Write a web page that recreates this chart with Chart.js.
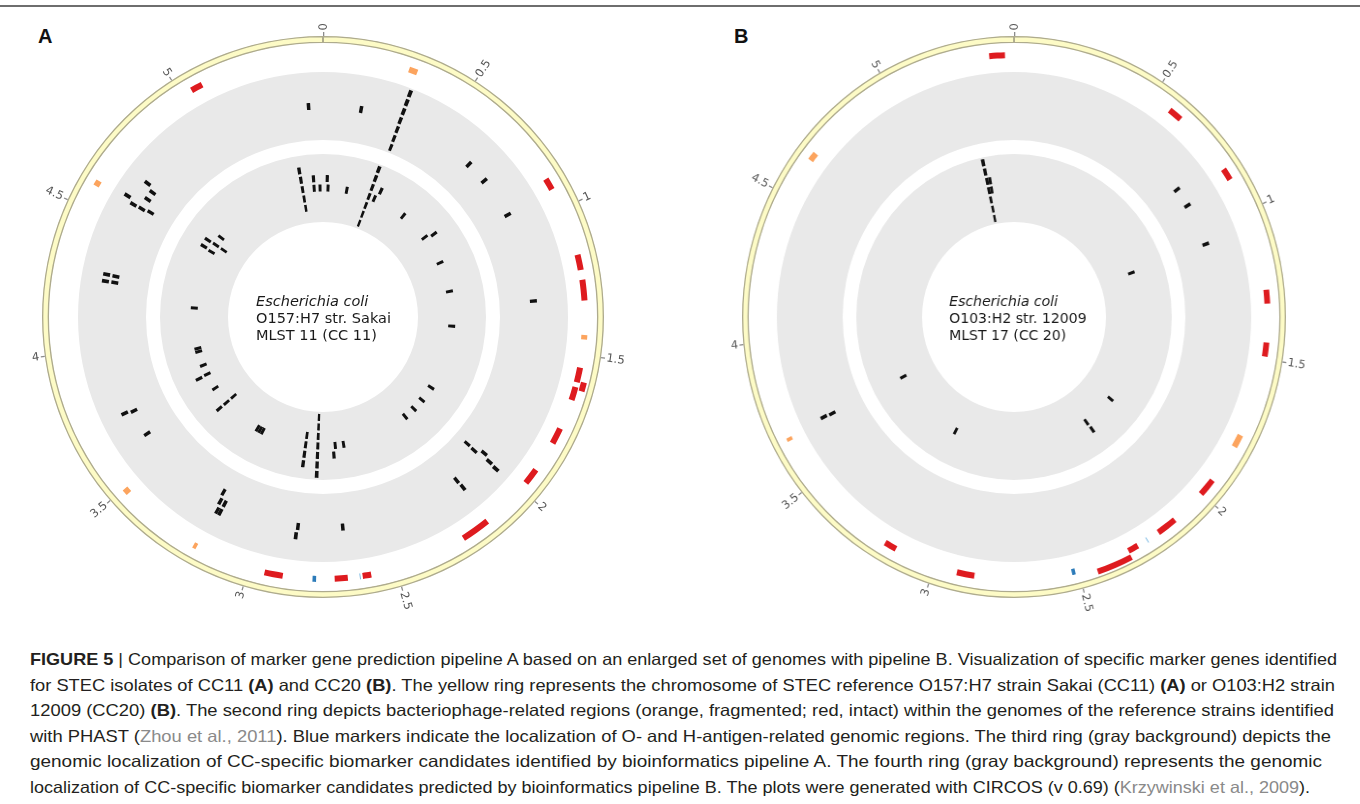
<!DOCTYPE html>
<html>
<head>
<meta charset="utf-8">
<script src="https://cdn.jsdelivr.net/npm/chart.js@4.4.1/dist/chart.umd.min.js"></script>
<style>
  html, body { margin: 0; padding: 0; background: #fff; }
  body { width: 1360px; height: 804px; overflow: hidden; position: relative; font-family: "Liberation Sans", Arial, sans-serif; }
  .topline { position: absolute; left: 0; top: 5px; width: 1360px; height: 2px; background: #6e6e6e; }
  .letter { position: absolute; top: 26px; font: bold 20px "Liberation Sans", Arial, sans-serif; color: #111; line-height: 20px; }
  .wrap { position: absolute; top: -3px; width: 640px; height: 640px; }
  .wrap canvas { display: block; }
  #caption { position: absolute; left: 30px; top: 647px; color: #231f20; font-size: 16.5px; line-height: 25.6px; white-space: nowrap; }
  #caption div { transform-origin: 0 0; width: max-content; }
  #caption .ref { color: #8a8a8a; }
</style>
</head>
<body>
<div class="topline"></div>
<div class="letter" style="left:38px">A</div>
<div class="letter" style="left:734px">B</div>
<div class="wrap" style="left:3px"><canvas id="circA" width="640" height="640"></canvas></div>
<div class="wrap" style="left:694px; transform: scaleX(0.968); transform-origin: 320px 320px;"><canvas id="circB" width="640" height="640"></canvas></div>
<div id="caption">
  <div data-right="1337"><b>FIGURE 5</b> | Comparison of marker gene prediction pipeline A based on an enlarged set of genomes with pipeline B. Visualization of specific marker genes identified</div>
  <div data-right="1335">for STEC isolates of CC11 <b>(A)</b> and CC20 <b>(B)</b>. The yellow ring represents the chromosome of STEC reference O157:H7 strain Sakai (CC11) <b>(A)</b> or O103:H2 strain</div>
  <div data-right="1334">12009 (CC20) <b>(B)</b>. The second ring depicts bacteriophage-related regions (orange, fragmented; red, intact) within the genomes of the reference strains identified</div>
  <div data-right="1331">with PHAST (<span class="ref">Zhou et al., 2011</span>). Blue markers indicate the localization of O- and H-antigen-related genomic regions. The third ring (gray background) depicts the</div>
  <div data-right="1322">genomic localization of CC-specific biomarker candidates identified by bioinformatics pipeline A. The fourth ring (gray background) represents the genomic</div>
  <div data-right="1310">localization of CC-specific biomarker candidates predicted by bioinformatics pipeline B. The plots were generated with CIRCOS (v 0.69) (<span class="ref">Krzywinski et al., 2009</span>).</div>
</div>
<script>
// ---- Genome coordinates are in Mb ----
const genomeLengthA = 5.5;    // O157:H7 str. Sakai
const genomeLengthB = 5.45;   // O103:H2 str. 12009
const tickValues = [0, 0.5, 1, 1.5, 2, 2.5, 3, 3.5, 4, 4.5, 5];
const tickLabels = ['0', '0.5', '1', '1.5', '2', '2.5', '3', '3.5', '4', '4.5', '5'];

// PHAST prophage regions: [start, end, stacking layer]
const intactPhageA = [
  [0.89, 0.93, 0], [1.165, 1.217, 0], [1.25, 1.32, 0], [1.545, 1.595, 0], [1.59, 1.62, 1],
  [1.612, 1.657, 0], [1.76, 1.815, 0], [1.92, 1.975, 0], [2.157, 2.255, 0], [2.588, 2.617, 0],
  [2.667, 2.711, 0], [2.885, 2.947, 0], [5.04, 5.08, 0]
];
const fragmentedPhageA = [
  [0.293, 0.322, 0], [1.435, 1.45, 0], [3.19, 3.202, 0], [3.48, 3.50, 0], [4.583, 4.603, 0]
];
// Antigen-related regions: [start, end]
const oAntigenA = [[2.773, 2.785]];
const hAntigenA = [[2.624, 2.627]];

// Biomarker candidates: [position, tile layer]  (layer 0 = track centre)
const pipelineAMarkersA = [
  [0.159, 0],
  [0.325, 3], [0.326, 2], [0.327, 1], [0.328, 0], [0.330, -1], [0.331, -2], [0.333, -3],
  [0.668, 0], [0.761, 0], [0.933, 0], [1.309, 0],
  [2.006, -2], [2.008, -1], [1.989, 0], [2.002, 1], [2.006, 2],
  [2.150, 0], [2.148, 1], [2.668, 0], [2.854, 0], [2.858, 1],
  [3.202, -1], [3.195, 0], [3.187, 1], [3.174, 0], [3.174, 1],
  [3.612, 0], [3.722, 0], [3.729, 1],
  [4.268, 0], [4.268, 1], [4.294, 0], [4.295, 1],
  [4.594, 1], [4.596, 0], [4.602, -1], [4.611, 2], [4.642, 0], [4.677, 0], [4.695, 1],
  [5.44, 0]
];
const pipelineBMarkersA = [
  [5.359, 2], [5.360, 1], [5.361, 0], [5.362, -1], [5.363, -2],
  [5.44, 1], [5.44, 0], [5.48, 0], [0.027, 1], [0.034, 0], [0.162, 0],
  [0.316, 3], [0.317, 2], [0.318, 1], [0.319, 0], [0.320, -1], [0.321, -2], [0.322, -3],
  [0.377, 1], [0.358, 0], [0.587, 0], [0.794, 0], [0.813, 1], [0.995, 0], [1.201, 0], [1.437, 0],
  [1.881, 0], [1.986, 0], [2.067, 0], [2.146, 0],
  [2.610, 0], [2.667, 0], [2.681, 1],
  [2.785, 3], [2.785, 2], [2.785, 1], [2.785, 0], [2.785, -1], [2.785, -2], [2.785, -3],
  [2.868, 2], [2.868, 1], [2.868, 0], [2.868, -1],
  [3.175, 0], [3.195, 0], [3.215, 0],
  [3.490, -1], [3.490, 0], [3.491, 1], [3.614, 0], [3.723, 0], [3.720, 1], [3.790, 0],
  [3.888, 0], [3.910, 0], [4.186, 0],
  [4.587, 0], [4.594, 1], [4.641, 1], [4.643, 0], [4.643, -1], [4.704, 0]
];

const intactPhageB = [
  [5.365, 5.419, 0], [0.573, 0.621, 0], [0.843, 0.884, 0], [1.272, 1.318, 0], [1.447, 1.494, 0],
  [1.946, 2.006, 0], [2.13, 2.20, 0], [2.283, 2.319, 0], [2.319, 2.441, 1], [2.861, 2.922, 0],
  [3.145, 3.187, 0]
];
const fragmentedPhageB = [[4.643, 4.672, 0], [1.768, 1.812, 0], [3.661, 3.673, 0]];
const oAntigenB = [[2.514, 2.526]];
const hAntigenB = [[2.244, 2.247]];
const pipelineAMarkersB = [[0.801, 0], [0.880, 0], [1.057, 0], [3.679, 1], [3.676, 0]];
const pipelineBMarkersB = [
  [3.670, 0], [3.147, 0], [1.959, 0], [2.189, 0], [2.185, 1], [1.060, 0],
  [5.273, 3], [5.274, 2], [5.275, 1], [5.275, 0], [5.276, -1], [5.277, -2], [5.277, -3],
  [5.294, 1], [5.294, 0]
];

const strainA = ['Escherichia coli', 'O157:H7 str. Sakai', 'MLST 11 (CC 11)'];
const strainB = ['Escherichia coli', 'O103:H2 str. 12009', 'MLST 17 (CC 20)'];

// ---- drawing constants ----
const COLORS = {
  chromosome: '#fdfbc6', chromosomeEdge: '#aeab8e', tick: '#8c8c8c', tickText: '#555555',
  intact: '#de1b1f', fragmented: '#fca45e', oAntigen: '#2c7bb9', hAntigen: '#79b8e3',
  track: '#e9e9e9', tile: '#111111', none: 'rgba(0,0,0,0)'
};
const OUTER_RADIUS = 285, INNER_RADIUS = 95;
const TICK_W = 0.004;                       // Mb
const TILE_W = { inner3: 0.0145, inner4: 0.02 };
const LAYERS = [3, 2, 1, 0, -1, -2, -3];    // outer -> inner

// Turn a list of intervals into one doughnut ring (gaps are transparent).
function ringData(intervals, L) {
  const pieces = [];
  intervals.forEach((iv, idx) => {
    let s = iv.s, e = iv.e;
    if (s < 0) { pieces.push({ s: s + L, e: L, color: iv.color, idx: -1 }); s = 0; }
    if (e > L) { pieces.push({ s: 0, e: e - L, color: iv.color, idx: -1 }); e = L; }
    pieces.push({ s, e, color: iv.color, idx });
  });
  pieces.sort((a, b) => a.s - b.s);
  const data = [], colors = [], owner = [];
  let cur = 0;
  pieces.forEach(p => {
    const s = Math.max(p.s, cur);
    if (p.e <= s) return;
    if (s > cur) { data.push(s - cur); colors.push(COLORS.none); owner.push(-1); }
    data.push(p.e - s); colors.push(p.color); owner.push(p.idx);
    cur = p.e;
  });
  if (cur < L) { data.push(L - cur); colors.push(COLORS.none); owner.push(-1); }
  return { data, colors, owner };
}

function ds(ring, weight, extra) {
  return Object.assign({ data: ring.data, backgroundColor: ring.colors, weight,
    borderWidth: 0, hoverBorderWidth: 0, hoverBackgroundColor: ring.colors }, extra || {});
}
function blank(L, weight) { return ds({ data: [L], colors: [COLORS.none] }, weight); }

function buildPanel(canvasId, L, intact, fragmented, oAnt, hAnt, markers3, markers4, strain) {
  const datasets = [];
  // tick ring
  const tickRing = ringData(tickValues.map(v => ({ s: v, e: v + TICK_W, color: COLORS.tick })), L);
  datasets.push(ds(tickRing, 4));
  // chromosome ideogram
  datasets.push(ds({ data: [L], colors: [COLORS.chromosome] }, 7,
    { borderWidth: 1, borderColor: COLORS.chromosomeEdge, borderAlign: 'inner', hoverBorderWidth: 1 }));
  datasets.push(blank(L, 2));
  // prophage track, two stacking layers
  const phageLayer = layer => ringData([
    ...intact.filter(r => r[2] === layer).map(r => ({ s: r[0], e: r[1], color: COLORS.intact })),
    ...fragmented.filter(r => r[2] === layer).map(r => ({ s: r[0], e: r[1], color: COLORS.fragmented })),
    ...(layer === 0 ? oAnt.map(r => ({ s: r[0], e: r[1], color: COLORS.oAntigen })) : []),
    ...(layer === 0 ? hAnt.map(r => ({ s: r[0], e: r[1], color: COLORS.hAntigen })) : [])
  ], L);
  datasets.push(ds(phageLayer(1), 6));
  datasets.push(blank(L, 1));
  datasets.push(ds(phageLayer(0), 6));
  datasets.push(blank(L, 14));
  // tile tracks
  const tracks = [];
  const tileTrack = (markers, w) => {
    const first = datasets.length;
    datasets.push(blank(L, 2));
    LAYERS.forEach((k, i) => {
      const ring = ringData(markers.filter(m => m[1] === k)
        .map(m => ({ s: m[0] - w / 2, e: m[0] + w / 2, color: COLORS.tile })), L);
      datasets.push(ds(ring, 7));
      if (i < LAYERS.length - 1) datasets.push(blank(L, 2.5));
    });
    datasets.push(blank(L, 2));
    tracks.push([first, datasets.length - 1]);
  };
  tileTrack(markers3, TILE_W.inner3);
  datasets.push(blank(L, 14));
  tileTrack(markers4, TILE_W.inner4);

  const trackBackground = {
    id: 'trackBackground',
    beforeDatasetsDraw(chart) {
      const ctx = chart.ctx;
      ctx.save();
      ctx.fillStyle = COLORS.track;
      tracks.forEach(([a, b]) => {
        const outer = chart.getDatasetMeta(a).data[0];
        const inner = chart.getDatasetMeta(b).data[0];
        ctx.beginPath();
        ctx.arc(outer.x, outer.y, outer.outerRadius, 0, Math.PI * 2);
        ctx.arc(outer.x, outer.y, inner.innerRadius, 0, Math.PI * 2, true);
        ctx.fill();
      });
      ctx.restore();
    }
  };

  const tickText = {
    id: 'tickText',
    afterDatasetsDraw(chart) {
      const meta = chart.getDatasetMeta(0);
      const ctx = chart.ctx;
      ctx.save();
      ctx.fillStyle = COLORS.tickText;
      ctx.font = '11.5px "DejaVu Sans", Verdana, sans-serif';
      ctx.textBaseline = 'middle';
      tickRing.owner.forEach((idx, i) => {
        if (idx < 0) return;
        const el = meta.data[i];
        const a = (el.startAngle + el.endAngle) / 2;
        const r = el.outerRadius + 1.5;
        ctx.save();
        ctx.translate(el.x, el.y);
        if (Math.cos(a) > -1e-6) {
          ctx.rotate(a); ctx.textAlign = 'left';
          ctx.fillText(tickLabels[idx], r, 0);
        } else {
          ctx.rotate(a + Math.PI); ctx.textAlign = 'right';
          ctx.fillText(tickLabels[idx], -r, 0);
        }
        ctx.restore();
      });
      ctx.restore();
    }
  };

  const centreText = {
    id: 'centreText',
    afterDraw(chart) {
      const el = chart.getDatasetMeta(0).data[0];
      const ctx = chart.ctx;
      ctx.save();
      ctx.fillStyle = '#1a1a1a';
      ctx.textAlign = 'left';
      ctx.textBaseline = 'middle';
      strain.forEach((t, i) => {
        ctx.font = (i === 0 ? 'italic ' : '') + '14.5px "DejaVu Sans", Verdana, sans-serif';
        ctx.fillText(t, el.x - 67, el.y - 15 + i * 17);
      });
      ctx.restore();
    }
  };

  return new Chart(document.getElementById(canvasId), {
    type: 'doughnut',
    data: { labels: [], datasets },
    options: {
      responsive: false,
      animation: false,
      events: [],
      radius: OUTER_RADIUS,
      cutout: (INNER_RADIUS / OUTER_RADIUS * 100) + '%',
      rotation: 0,
      circumference: 360,
      layout: { padding: 0 },
      elements: { arc: { borderWidth: 0, hoverBorderWidth: 0, offset: 0, hoverOffset: 0, spacing: 0 } },
      plugins: { legend: { display: false }, tooltip: { enabled: false } }
    },
    plugins: [trackBackground, tickText, centreText]
  });
}

buildPanel('circA', genomeLengthA, intactPhageA, fragmentedPhageA, oAntigenA, hAntigenA,
  pipelineAMarkersA, pipelineBMarkersA, strainA);
buildPanel('circB', genomeLengthB, intactPhageB, fragmentedPhageB, oAntigenB, hAntigenB,
  pipelineAMarkersB, pipelineBMarkersB, strainB);

// stretch each caption line to its set right margin
document.querySelectorAll('#caption div').forEach(d => {
  const w = d.getBoundingClientRect().width;
  const target = +d.dataset.right - 30;
  d.style.transform = 'scaleX(' + (target / w) + ')';
});
</script>
</body>
</html>
